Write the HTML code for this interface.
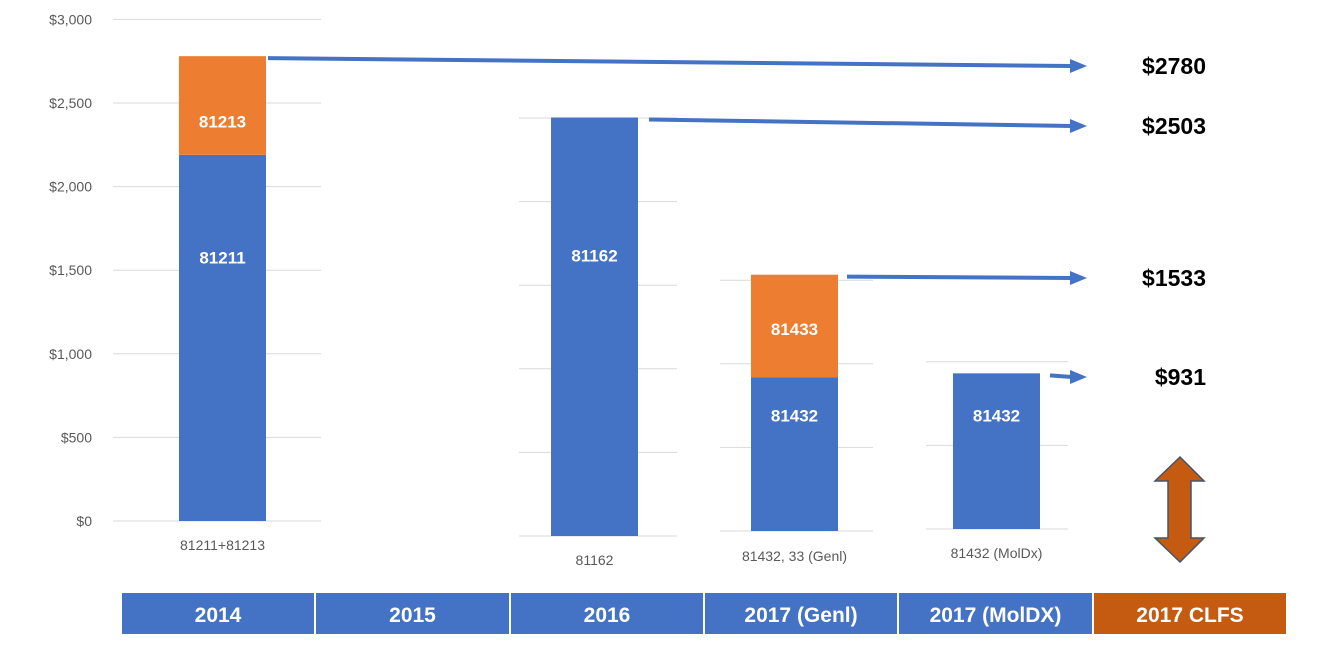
<!DOCTYPE html>
<html><head><meta charset="utf-8"><style>
html,body{margin:0;padding:0;background:#fff;width:1322px;height:668px;overflow:hidden}
svg{display:block;font-family:"Liberation Sans",sans-serif}
</style></head><body>
<svg id="c" width="1322" height="668"></svg>
<script>
const yTicks = [0,500,1000,1500,2000,2500,3000];
const yTickLabels = ["$0","$500","$1,000","$1,500","$2,000","$2,500","$3,000"];
const categories = ["81211+81213","81162","81432, 33 (Genl)","81432 (MolDx)"];
const blueValues = [2190,2503,920,931];
const orangeValues = [590,0,613,0];
const blueLabels = ["81211","81162","81432","81432"];
const orangeLabels = ["81213","","81433",""];
const totalLabels = ["$2780","$2503","$1533","$931"];
const years = ["2014","2015","2016","2017 (Genl)","2017 (MolDX)","2017 CLFS"];

const NS="http://www.w3.org/2000/svg";
const svg=document.getElementById('c');
function mk(t,a,p){const e=document.createElementNS(NS,t);for(const k in a)e.setAttribute(k,a[k]);(p||svg).appendChild(e);return e;}
const pxPer=83.6/500;
const panels=[[113,321,179,521,7,545],[519,677,551,536,6,560],[720,873,751,531,4,556],[926,1068,953,529,3,553]];
const blueLabelFrac=[0.28,0.33,0.25,0.27];
const orangeLabelFrac=[0.66,0,0.53,0];
function yScale(v,base){return base - v*pxPer;}
yTicks.forEach((t,i)=>{
  const tx=mk('text',{x:92,y:yScale(t,521)+5,'text-anchor':'end','font-size':14,fill:'#595959'});
  tx.textContent=yTickLabels[i];
  
  
});
const arrowStarts=[268,649,847,1050];
const arrowEnds=[66,126,278,377];
categories.forEach((c,i)=>{
  const [gx1,gx2,bx,base,gc,ly]=panels[i];
  for(let g=0;g<gc;g++){
    const gy=yScale(yTicks[g],base);
    const ln=mk('line',{x1:gx1,x2:gx2,y1:gy,y2:gy,stroke:'#d9d9d9','stroke-width':1});
    
    
  }
  const bw=87;
  const bTop=yScale(blueValues[i],base);
  const r=mk('rect',{x:bx,y:bTop,width:bw,height:base-bTop,fill:'#4472c4'});
  
  
  const bt=mk('text',{x:bx+bw/2,y:bTop+(base-bTop)*blueLabelFrac[i]+6,'text-anchor':'middle','font-size':17,'font-weight':'bold',fill:'#fff'});
  bt.textContent=blueLabels[i];
  
  
  let top=bTop;
  if(orangeValues[i]>0){
    const oTop=yScale(blueValues[i]+orangeValues[i],base);
    const o=mk('rect',{x:bx,y:oTop,width:bw,height:bTop-oTop,fill:'#ed7d31'});
    
    
    const ot=mk('text',{x:bx+bw/2,y:oTop+(bTop-oTop)*orangeLabelFrac[i]+6,'text-anchor':'middle','font-size':17,'font-weight':'bold',fill:'#fff'});
    ot.textContent=orangeLabels[i];
    
    
    top=oTop;
  }
  const cl=mk('text',{x:bx+bw/2,y:ly+5,'text-anchor':'middle','font-size':14,fill:'#595959'});
  cl.textContent=c;
  
  
  const ax1=arrowStarts[i], ay1=top+2;
  const ly2=arrowEnds[i];
  const ar=mk('line',{x1:ax1,y1:ay1,x2:1072,y2:ly2,stroke:'#4472c4','stroke-width':4});
  
  
  const ah=mk('polygon',{points:`1070,${ly2-7} 1087,${ly2} 1070,${ly2+7}`,fill:'#4472c4'});
  
  
  const tl=mk('text',{x:1206,y:ly2+8,'text-anchor':'end','font-size':23,'font-weight':'bold',fill:'#000'});
  tl.textContent=totalLabels[i];
  
  
});
const da=mk('polygon',{points:'1180,457 1204,481 1191,481 1191,538 1204,538 1180,562 1155,538 1168,538 1168,481 1155,481',fill:'#c55a11',stroke:'#44546a','stroke-width':1.5});


const cellX=[122,316,511,705,899,1094];
years.forEach((y,i)=>{
  const w=(i<5?cellX[i+1]-2:1286)-cellX[i];
  const r=mk('rect',{x:cellX[i],y:593,width:w,height:41,fill:i==5?'#c55a11':'#4472c4'});
  
  
  const t=mk('text',{x:cellX[i]+w/2,y:622,'text-anchor':'middle','font-size':21,'font-weight':'bold',fill:'#fff'});
  t.textContent=y;
  
  
});
</script>
</body></html>
